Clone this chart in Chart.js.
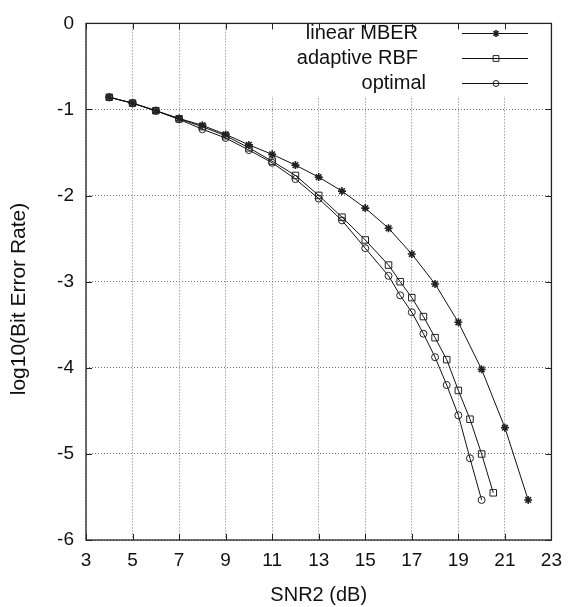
<!DOCTYPE html>
<html>
<head>
<meta charset="utf-8">
<script src="https://cdn.jsdelivr.net/npm/chart.js@4/dist/chart.umd.min.js"></script>
<style>
  html, body { margin: 0; padding: 0; background: #fff; }
  #wrap { width: 571px; height: 607px; }
</style>
</head>
<body>
<div id="wrap"><canvas id="chart" width="571" height="607"></canvas></div>
<script>
// SNR2 (dB) values and log10(BER)
const mberSnr = [4, 5, 6, 7, 8, 9, 10, 11, 12, 13, 14, 15, 16, 17, 18, 19, 20, 21, 22];
const mberBer = [-0.858, -0.926, -1.014, -1.104, -1.184, -1.289, -1.411, -1.521, -1.646, -1.785,
                 -1.948, -2.145, -2.379, -2.679, -3.026, -3.471, -4.018, -4.695, -5.535];

const rbfSnr = [4, 5, 6, 7, 8, 9, 10, 11, 12, 13, 14, 15, 16, 16.5, 17, 17.5, 18, 18.5, 19, 19.5, 20, 20.5];
const rbfBer = [-0.858, -0.926, -1.014, -1.108, -1.199, -1.305, -1.445, -1.600, -1.766, -1.998,
                -2.251, -2.515, -2.807, -3.000, -3.185, -3.405, -3.650, -3.905, -4.263, -4.597, -5.001, -5.452];

const optSnr = [4, 5, 6, 7, 8, 9, 10, 11, 12, 13, 14, 15, 16, 16.5, 17, 17.5, 18, 18.5, 19, 19.5, 20];
const optBer = [-0.858, -0.926, -1.014, -1.115, -1.229, -1.331, -1.471, -1.619, -1.808, -2.035,
                -2.288, -2.611, -2.932, -3.159, -3.355, -3.604, -3.877, -4.200, -4.552, -5.051, -5.535];

const seriesLabels = ["linear MBER", "adaptive RBF", "optimal"];
const xTicks = [3, 5, 7, 9, 11, 13, 15, 17, 19, 21, 23];
const yTicks = [0, -1, -2, -3, -4, -5, -6];

const FONT = "'Liberation Sans', Arial, sans-serif";

function pts(xs, ys) {
  return xs.map((x, i) => ({ x: x, y: ys[i] }));
}

// frame, inward ticks, legend box and rotated y title
const decor = {
  id: "decor",
  beforeDatasetsDraw(chart) {
    // the key box hides the grid behind it
    const ctx = chart.ctx;
    const a = chart.chartArea;
    ctx.save();
    ctx.fillStyle = "#fff";
    ctx.fillRect(268, a.top + 1, a.right - 269, 95 - a.top);
    ctx.restore();
  },
  afterDatasetsDraw(chart) {
    const ctx = chart.ctx;
    const a = chart.chartArea;
    const xs = chart.scales.x, ys = chart.scales.y;
    ctx.save();
    ctx.strokeStyle = "#222";
    ctx.lineWidth = 1.3;
    ctx.strokeRect(a.left, a.top, a.right - a.left, a.bottom - a.top);

    ctx.lineWidth = 1;
    ctx.beginPath();
    xTicks.forEach(v => {
      const px = Math.round(xs.getPixelForValue(v)) + 0.5;
      ctx.moveTo(px, a.bottom); ctx.lineTo(px, a.bottom - 6);
      ctx.moveTo(px, a.top); ctx.lineTo(px, a.top + 6);
    });
    yTicks.forEach(v => {
      const py = Math.round(ys.getPixelForValue(v)) + 0.5;
      ctx.moveTo(a.left, py); ctx.lineTo(a.left + 6, py);
      ctx.moveTo(a.right, py); ctx.lineTo(a.right - 6, py);
    });
    ctx.stroke();

    // legend
    const rowY = [33, 58, 83];
    const textRight = [418, 418, 426];
    ctx.font = "20px " + FONT;
    ctx.textAlign = "right";
    ctx.textBaseline = "middle";
    chart.data.datasets.forEach((ds, i) => {
      ctx.fillStyle = "#111";
      ctx.fillText(ds.label, textRight[i], rowY[i]);
      ctx.strokeStyle = "#111";
      ctx.lineWidth = 1;
      ctx.beginPath();
      ctx.moveTo(462, rowY[i] + 0.5);
      ctx.lineTo(528, rowY[i] + 0.5);
      ctx.stroke();
      ctx.fillStyle = ds.pointBackgroundColor;
      ctx.strokeStyle = ds.pointBorderColor;
      ctx.lineWidth = ds.pointBorderWidth;
      Chart.helpers.drawPoint(ctx, { pointStyle: ds.pointStyle, radius: ds.pointRadius - 0.5, rotation: 0,
        borderWidth: ds.pointBorderWidth }, 496, rowY[i] + 0.5);
    });

    // y axis title
    ctx.fillStyle = "#111";
    ctx.translate(19, 299);
    ctx.rotate(-Math.PI / 2);
    ctx.textAlign = "center";
    ctx.textBaseline = "middle";
    ctx.font = "21px " + FONT;
    ctx.fillText("log10(Bit Error Rate)", 0, 0);
    ctx.restore();
  }
};

const common = {
  borderColor: "#111",
  borderWidth: 1,
  pointBorderColor: "#222",
  tension: 0,
  fill: false
};

new Chart(document.getElementById("chart"), {
  type: "line",
  data: {
    datasets: [
      Object.assign({ label: seriesLabels[0], data: pts(mberSnr, mberBer), pointStyle: "star",
        pointRadius: 4, pointBorderWidth: 1.6, pointBackgroundColor: "#222" }, common),
      Object.assign({ label: seriesLabels[1], data: pts(rbfSnr, rbfBer), pointStyle: "rect",
        pointRadius: 4.6, pointBorderWidth: 1, pointBackgroundColor: "rgba(0,0,0,0)" }, common),
      Object.assign({ label: seriesLabels[2], data: pts(optSnr, optBer), pointStyle: "circle",
        pointRadius: 3.5, pointBorderWidth: 1, pointBackgroundColor: "rgba(0,0,0,0)" }, common)
    ]
  },
  options: {
    responsive: false,
    animation: false,
    layout: { padding: { top: 12, right: 11, left: 0, bottom: 0 } },
    plugins: { legend: { display: false }, tooltip: { enabled: false } },
    scales: {
      x: {
        type: "linear",
        min: 3, max: 23,
        afterBuildTicks: s => { s.ticks = xTicks.map(v => ({ value: v })); },
        afterFit: s => { s.height = 67; },
        grid: { color: "#777", lineWidth: 1, drawTicks: false },
        border: { display: false, dash: [1, 2] },
        ticks: { color: "#111", padding: 9, maxRotation: 0, font: { family: FONT, size: 19 } },
        title: { display: true, text: "SNR2 (dB)", color: "#111", padding: { top: 4, bottom: 0 },
          font: { family: FONT, size: 20 } }
      },
      y: {
        type: "linear",
        min: -6, max: 0,
        afterBuildTicks: s => { s.ticks = yTicks.map(v => ({ value: v })); },
        afterFit: s => { s.width = 86; },
        grid: { color: "#777", lineWidth: 1, drawTicks: false },
        border: { display: false, dash: [1, 2] },
        ticks: { color: "#111", padding: 12, font: { family: FONT, size: 19 } }
      }
    }
  },
  plugins: [decor]
});
</script>
</body>
</html>
